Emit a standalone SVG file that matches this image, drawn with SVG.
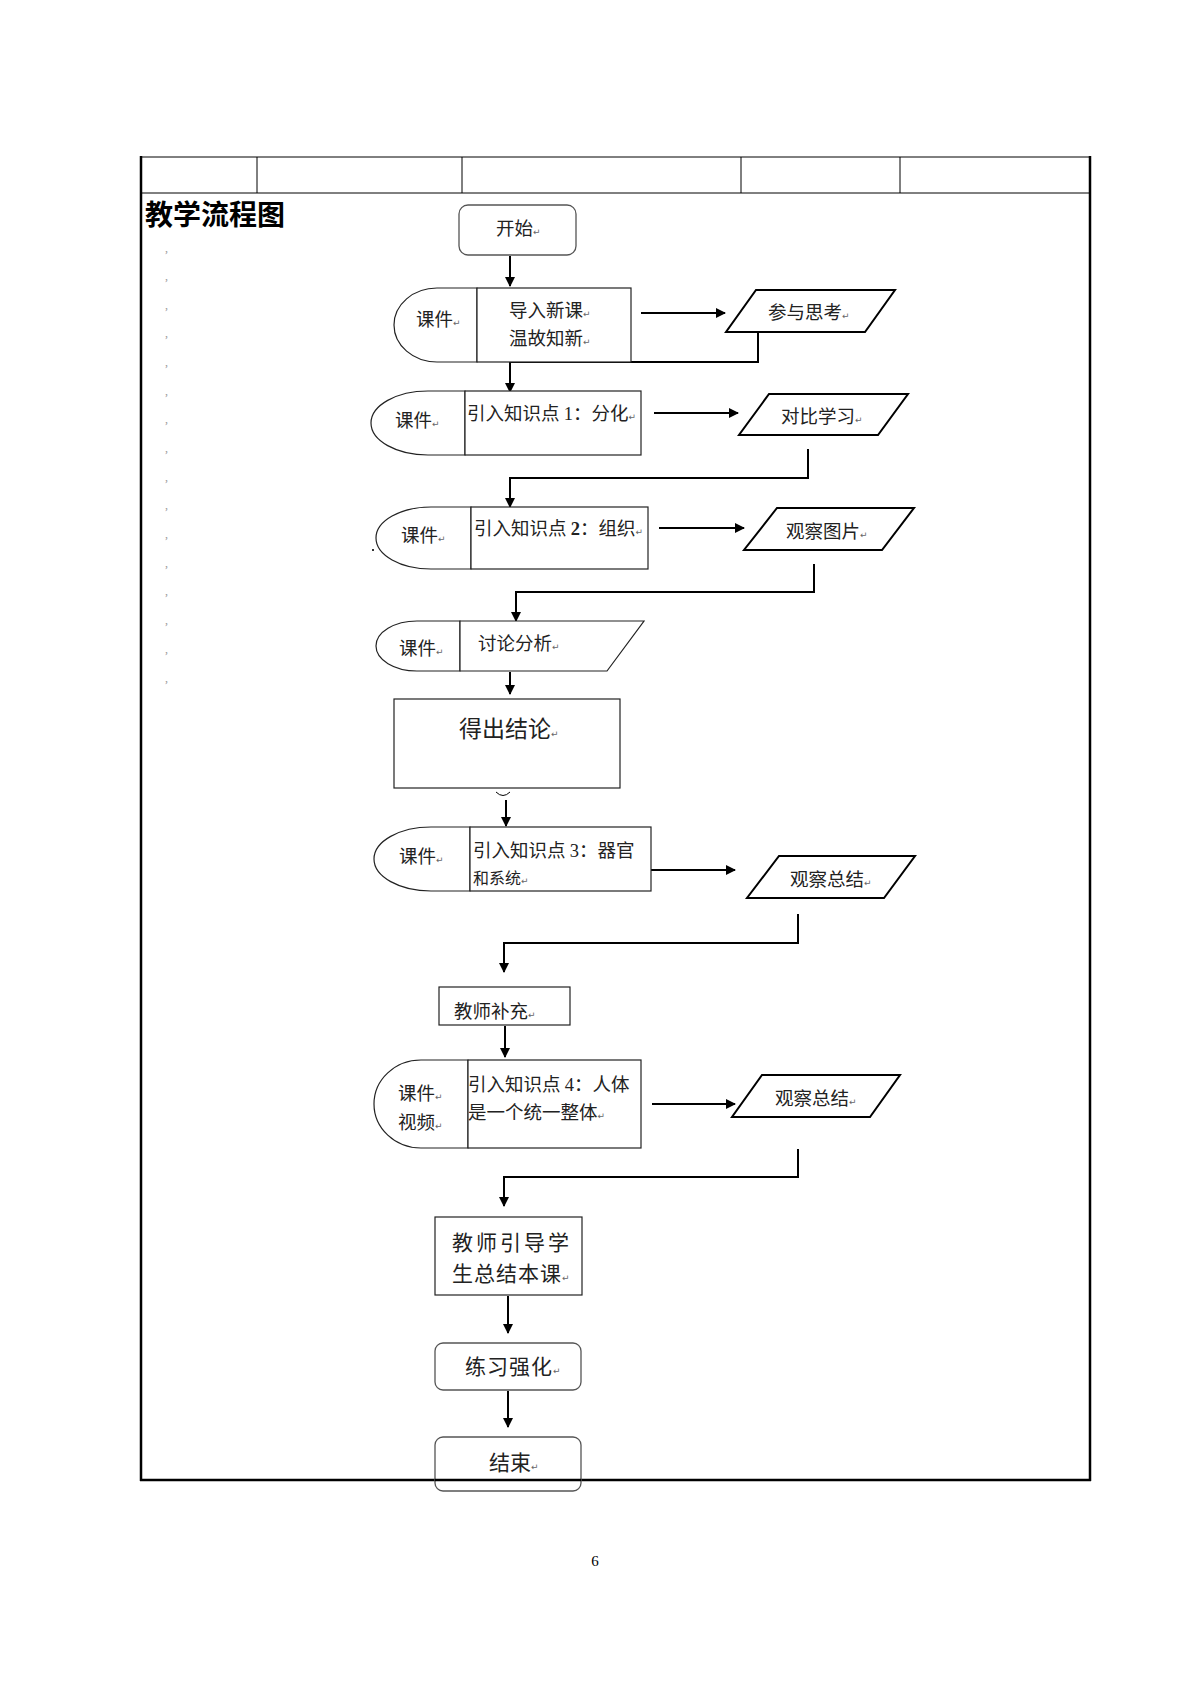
<svg xmlns="http://www.w3.org/2000/svg" width="1191" height="1684" viewBox="0 0 1191 1684">
<defs>
<marker id="ah" viewBox="0 0 10 10" refX="9" refY="5" markerWidth="10" markerHeight="10" markerUnits="userSpaceOnUse" orient="auto">
<path d="M0,0 L10,5 L0,10 Z" fill="#000"/>
</marker>
<style>
.bx{fill:#fff;stroke:#222;stroke-width:1.2}
.rb{fill:#fff;stroke:#555;stroke-width:1.3}
.pg{fill:#fff;stroke:#000;stroke-width:2}
.ln{fill:none;stroke:#000;stroke-width:2}
.ar{fill:none;stroke:#000;stroke-width:2;marker-end:url(#ah)}
.t{font-family:"Noto Sans CJK SC","Liberation Sans",sans-serif;font-size:18.5px;fill:#222}
.t2{font-family:"Noto Sans CJK SC","Liberation Sans",sans-serif;font-size:21px;fill:#222}
.pm{font-family:"DejaVu Sans",sans-serif;font-size:9px;fill:#666}
.cm{font-family:"Liberation Serif",serif;font-size:12px;fill:#999}
.tb{fill:none;stroke:#000;stroke-width:1}
.tbo{fill:none;stroke:#000;stroke-width:2.5}
</style>
</defs>
<g id="table">
<line class="tb" x1="141" y1="157" x2="1090" y2="157"/>
<line class="tb" x1="141" y1="193" x2="1090" y2="193"/>
<line class="tb" x1="257" y1="157" x2="257" y2="193"/>
<line class="tb" x1="462" y1="157" x2="462" y2="193"/>
<line class="tb" x1="741" y1="157" x2="741" y2="193"/>
<line class="tb" x1="900" y1="157" x2="900" y2="193"/>
<line class="tbo" x1="141" y1="156" x2="141" y2="1481"/>
<line class="tbo" x1="1090" y1="156" x2="1090" y2="1481"/>
<line class="tbo" x1="140" y1="1480" x2="1091" y2="1480"/>
<text x="145" y="225" style="font-family:'Noto Sans CJK SC',sans-serif;font-size:28px;font-weight:bold;fill:#000">教学流程图</text>
<g class="cm">
<text x="165" y="252">,</text><text x="165" y="280">,</text><text x="165" y="309">,</text><text x="165" y="337">,</text>
<text x="165" y="366">,</text><text x="165" y="395">,</text><text x="165" y="423">,</text><text x="165" y="452">,</text>
<text x="165" y="481">,</text><text x="165" y="509">,</text><text x="165" y="538">,</text><text x="165" y="567">,</text>
<text x="165" y="595">,</text><text x="165" y="624">,</text><text x="165" y="653">,</text><text x="165" y="682">,</text>
</g>
<rect x="372" y="549" width="2" height="2" fill="#333"/>
</g>

<g id="connectors">
<line class="ar" x1="510" y1="256" x2="510" y2="286"/>
<line class="ar" x1="641" y1="313" x2="725" y2="313"/>
<polyline class="ln" points="758,332 758,362 510,362"/>
<line class="ar" x1="510" y1="362" x2="510" y2="392"/>
<line class="ar" x1="654" y1="413" x2="738" y2="413"/>
<polyline class="ln" points="808,449 808,478 510,478"/>
<line class="ar" x1="510" y1="477" x2="510" y2="507"/>
<line class="ar" x1="659" y1="528" x2="744" y2="528"/>
<polyline class="ln" points="814,564 814,592 516,592"/>
<line class="ar" x1="516" y1="591" x2="516" y2="621"/>
<line class="ar" x1="510" y1="672" x2="510" y2="694"/>
<path d="M496,792 Q503,799 510,792" fill="none" stroke="#000" stroke-width="1"/>
<line class="ar" x1="506" y1="800" x2="506" y2="826"/>
<line class="ar" x1="651" y1="870" x2="735" y2="870"/>
<polyline class="ln" points="798,914 798,943 504,943"/>
<line class="ar" x1="504" y1="942" x2="504" y2="972"/>
<line class="ar" x1="505" y1="1026" x2="505" y2="1057"/>
<line class="ar" x1="652" y1="1104" x2="735" y2="1104"/>
<polyline class="ln" points="798,1149 798,1177 504,1177"/>
<line class="ar" x1="504" y1="1176" x2="504" y2="1206"/>
<line class="ar" x1="508" y1="1296" x2="508" y2="1333"/>
<line class="ar" x1="508" y1="1391" x2="508" y2="1427"/>
</g>

<g id="start">
<rect class="rb" x="459" y="205" width="117" height="50" rx="9"/>
<text class="t" x="496" y="235">开始<tspan class="pm">↵</tspan></text>
</g>

<g id="row1">
<path class="bx" d="M477,288 H437 A43,37 0 0 0 437,362 H477 Z"/>
<rect class="bx" x="477" y="288" width="154" height="74"/>
<text class="t" x="416" y="326">课件<tspan class="pm">↵</tspan></text>
<text class="t" x="509" y="317">导入新课<tspan class="pm">↵</tspan></text>
<text class="t" x="509" y="345">温故知新<tspan class="pm">↵</tspan></text>
</g>
<g id="p1">
<polygon class="pg" points="756,290 895,290 865,332 726,332"/>
<text class="t" x="768" y="319">参与思考<tspan class="pm">↵</tspan></text>
</g>

<g id="row2">
<path class="bx" d="M465,391 H428 A57,32 0 0 0 428,455 H465 Z"/>
<rect class="bx" x="465" y="391" width="176" height="64"/>
<text class="t" x="395" y="427">课件<tspan class="pm">↵</tspan></text>
<text class="t" x="467" y="420">引入知识点 <tspan style="font-family:'Liberation Serif',serif">1</tspan>：分化<tspan class="pm">↵</tspan></text>
</g>
<g id="p2">
<polygon class="pg" points="769,394 908,394 878,435 739,435"/>
<text class="t" x="781" y="423">对比学习<tspan class="pm">↵</tspan></text>
</g>

<g id="row3">
<path class="bx" d="M471,507 H431 A55,31 0 0 0 431,569 H471 Z"/>
<rect class="bx" x="471" y="507" width="177" height="62"/>
<text class="t" x="401" y="542">课件<tspan class="pm">↵</tspan></text>
<text class="t" x="474" y="535">引入知识点 <tspan style="font-family:'Liberation Serif',serif;font-weight:bold">2</tspan>：组织<tspan class="pm">↵</tspan></text>
</g>
<g id="p3">
<polygon class="pg" points="777,508 914,508 882,550 744,550"/>
<text class="t" x="786" y="538">观察图片<tspan class="pm">↵</tspan></text>
</g>

<g id="row4">
<path class="bx" d="M460,621 H417 A41,25 0 0 0 417,671 H460 Z"/>
<polygon class="bx" points="460,621 644,621 607,671 460,671"/>
<text class="t" x="399" y="655">课件<tspan class="pm">↵</tspan></text>
<text class="t" x="478" y="650">讨论分析<tspan class="pm">↵</tspan></text>
</g>

<g id="conclusion">
<rect class="bx" x="394" y="699" width="226" height="89"/>
<text class="t2" x="459" y="737" style="font-size:23px">得出结论<tspan class="pm">↵</tspan></text>
</g>

<g id="row5">
<path class="bx" d="M470,827 H431 A57,32 0 0 0 431,891 H470 Z"/>
<rect class="bx" x="470" y="827" width="181" height="64"/>
<text class="t" x="399" y="863">课件<tspan class="pm">↵</tspan></text>
<text class="t" x="473" y="857">引入知识点 <tspan style="font-family:'Liberation Serif',serif">3</tspan>：器官</text>
<text class="t" x="473" y="884" style="font-size:16px">和系统<tspan class="pm">↵</tspan></text>
</g>
<g id="p4">
<polygon class="pg" points="779,856 915,856 884,898 747,898"/>
<text class="t" x="790" y="886">观察总结<tspan class="pm">↵</tspan></text>
</g>

<g id="supplement">
<rect class="bx" x="439" y="987" width="131" height="38"/>
<text class="t" x="454" y="1018">教师补充<tspan class="pm">↵</tspan></text>
</g>

<g id="row6">
<path class="bx" d="M468,1060 H421 A47,44 0 0 0 421,1148 H468 Z"/>
<rect class="bx" x="468" y="1060" width="173" height="88"/>
<text class="t" x="398" y="1100">课件<tspan class="pm">↵</tspan></text>
<text class="t" x="398" y="1129">视频<tspan class="pm">↵</tspan></text>
<text class="t" x="468" y="1091">引入知识点 <tspan style="font-family:'Liberation Serif',serif">4</tspan>：人体</text>
<text class="t" x="468" y="1119">是一个统一整体<tspan class="pm">↵</tspan></text>
</g>
<g id="p5">
<polygon class="pg" points="762,1075 900,1075 870,1117 732,1117"/>
<text class="t" x="775" y="1105">观察总结<tspan class="pm">↵</tspan></text>
</g>

<g id="summary">
<rect class="bx" x="435" y="1217" width="147" height="78"/>
<text class="t2" x="452" y="1250" style="letter-spacing:3px">教师引导学</text>
<text class="t2" x="452" y="1281" style="letter-spacing:1px">生总结本课<tspan class="pm">↵</tspan></text>
</g>

<g id="practice">
<rect class="rb" x="435" y="1343" width="146" height="47" rx="8"/>
<text class="t2" x="465" y="1374" style="letter-spacing:1px">练习强化<tspan class="pm">↵</tspan></text>
</g>

<g id="end">
<rect class="rb" x="435" y="1437" width="146" height="54" rx="8"/>
<line class="tbo" x1="435" y1="1480" x2="581" y2="1480"/>
<text class="t2" x="489" y="1470">结束<tspan class="pm">↵</tspan></text>
</g>

<text x="595" y="1566" style="font-family:'Liberation Serif',serif;font-size:15px;fill:#000" text-anchor="middle">6</text>
</svg>
